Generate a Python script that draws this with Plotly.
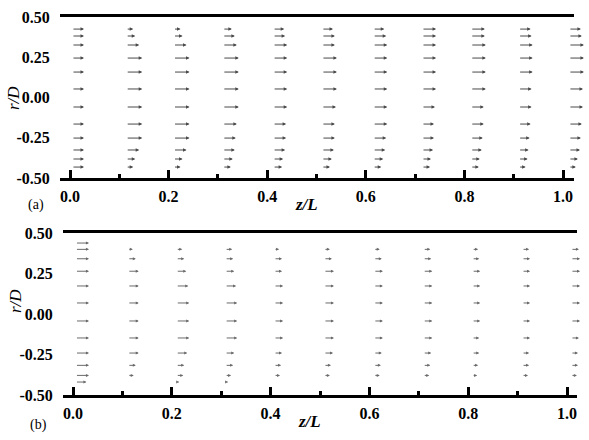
import plotly.graph_objects as go

# ---------------- data ----------------
z_a = [0.004, 0.114, 0.21, 0.31, 0.412, 0.511, 0.615, 0.714, 0.813, 0.91, 1.012]
r_a = [0.425, 0.382, 0.326, 0.245, 0.158, 0.053, -0.059, -0.165, -0.252, -0.326, -0.382, -0.432]
u_a = [
    [1.0, 1.0, 1.0, 1.0, 1.0, 1.0, 1.0, 1.0, 1.0, 1.0, 1.0, 1.0],
    [0.58, 0.75, 1.08, 1.33, 1.33, 1.33, 1.33, 1.33, 1.33, 1.08, 0.75, 0.58],
    [0.58, 0.75, 1.08, 1.33, 1.33, 1.33, 1.33, 1.33, 1.33, 1.08, 0.75, 0.58],
    [0.75, 1.0, 1.17, 1.33, 1.33, 1.33, 1.33, 1.17, 1.08, 1.0, 0.83, 0.67],
    [0.92, 1.0, 1.17, 1.17, 1.17, 1.17, 1.17, 1.08, 1.08, 1.0, 0.83, 0.75],
    [0.92, 1.08, 1.08, 1.25, 1.25, 1.25, 1.17, 1.08, 1.08, 1.0, 0.83, 0.67],
    [0.92, 1.08, 1.17, 1.17, 1.17, 1.17, 1.17, 1.17, 1.08, 1.0, 0.83, 0.67],
    [1.17, 1.17, 1.17, 1.17, 1.17, 1.17, 1.08, 1.0, 1.0, 0.92, 0.75, 0.67],
    [1.17, 1.17, 1.25, 1.25, 1.25, 1.25, 1.08, 1.08, 1.0, 0.92, 0.75, 0.67],
    [1.0, 1.08, 1.17, 1.17, 1.17, 1.08, 1.08, 1.0, 0.92, 0.83, 0.75, 0.58],
    [1.0, 1.08, 1.25, 1.25, 1.25, 1.17, 1.17, 1.08, 1.0, 0.92, 0.75, 0.58],
]

z_b = [0.005, 0.111, 0.209, 0.308, 0.407, 0.508, 0.609, 0.709, 0.808, 0.909, 1.008]
r_b = [0.438, 0.399, 0.341, 0.264, 0.173, 0.068, -0.043, -0.148, -0.241, -0.317, -0.379, -0.420]
u_b = [
    [1.0, 1.0, 1.0, 1.0, 1.0, 1.0, 1.0, 1.0, 1.0, 1.0, 1.0, 0.81],
    [0.07, 0.37, 0.59, 0.81, 0.81, 0.81, 0.81, 0.81, 0.81, 0.59, 0.44, 0.07],
    [0.07, 0.44, 0.59, 0.74, 0.89, 0.96, 0.96, 0.96, 0.81, 0.59, 0.52, 0.22],
    [0.15, 0.52, 0.59, 0.67, 0.81, 0.89, 0.89, 0.89, 0.67, 0.59, 0.44, 0.22],
    [0.15, 0.37, 0.59, 0.59, 0.67, 0.67, 0.67, 0.67, 0.59, 0.52, 0.44, 0.15],
    [0.07, 0.44, 0.59, 0.74, 0.74, 0.74, 0.74, 0.74, 0.67, 0.52, 0.44, 0.15],
    [0.07, 0.44, 0.59, 0.67, 0.67, 0.67, 0.67, 0.67, 0.59, 0.52, 0.44, 0.15],
    [0.07, 0.52, 0.59, 0.67, 0.67, 0.67, 0.67, 0.67, 0.59, 0.52, 0.44, 0.15],
    [0.07, 0.44, 0.52, 0.59, 0.59, 0.59, 0.59, 0.52, 0.52, 0.44, 0.37, 0.15],
    [0.07, 0.52, 0.59, 0.59, 0.59, 0.59, 0.59, 0.59, 0.52, 0.52, 0.44, 0.15],
    [0.07, 0.59, 0.67, 0.67, 0.67, 0.67, 0.67, 0.59, 0.52, 0.52, 0.44, 0.15],
]

x_ticks = [0.0, 0.2, 0.4, 0.6, 0.8, 1.0]
x_ticktext = ["0.0", "0.2", "0.4", "0.6", "0.8", "1.0"]
x_minor = [0.1, 0.3, 0.5, 0.7, 0.9]
y_ticks = [0.5, 0.25, 0.0, -0.25, -0.5]
y_ticktext = ["0.50", "0.25", "0.00", "-0.25", "-0.50"]

SCALE_A = 0.0244
SCALE_B = 0.0273

W, H = 589, 440
SERIF = "Liberation Serif, Times New Roman, serif"

fig = go.Figure()
fig.add_trace(go.Scatter(x=[0], y=[0], mode="markers", marker=dict(opacity=0), xaxis="x", yaxis="y", hoverinfo="skip", showlegend=False))
fig.add_trace(go.Scatter(x=[0], y=[0], mode="markers", marker=dict(opacity=0), xaxis="x2", yaxis="y2", hoverinfo="skip", showlegend=False))

annotations = []

def add_arrows(zs, rs, us, scale, xr, yr, color, size):
    for zi, col in zip(zs, us):
        for ri, u in zip(rs, col):
            annotations.append(dict(
                x=zi + u * scale, y=ri, ax=zi, ay=ri,
                xref=xr, yref=yr, axref=xr, ayref=yr,
                showarrow=True, arrowhead=2, arrowsize=size, arrowwidth=1,
                arrowcolor=color, text="", standoff=0, startstandoff=0,
            ))

add_arrows(z_a, r_a, u_a, SCALE_A, "x", "y", "#4a4a4a", 0.7)
add_arrows(z_b, r_b, u_b, SCALE_B, "x2", "y2", "#6a6a6a", 0.6)

def paper_text(text, px, py, size, **kw):
    d = dict(text=text, x=px / W, y=1 - py / H, xref="paper", yref="paper",
             showarrow=False, xanchor="center", yanchor="middle",
             font=dict(family=SERIF, size=size, color="black"))
    d.update(kw)
    annotations.append(d)

paper_text("<b><i>z/L</i></b>", 306, 204, 17)
paper_text("<b><i>z/L</i></b>", 309, 421, 17)
paper_text("(a)", 36, 205, 14)
paper_text("(b)", 38, 425, 14)
paper_text("<i>r/D</i>", 14, 98, 17, textangle=-90)
paper_text("<i>r/D</i>", 15, 301, 17, textangle=-90)

def xaxis_cfg(domain, rng):
    return dict(domain=domain, range=rng, showgrid=False, zeroline=False, automargin=False,
                showline=True, linewidth=3, linecolor="black", mirror=True,
                tickvals=x_ticks, ticktext=x_ticktext, ticks="inside", ticklen=8,
                tickwidth=3, tickcolor="black",
                minor=dict(ticks="inside", ticklen=4, tickwidth=3, tickcolor="black",
                           tickvals=x_minor),
                ticklabelstandoff=2,
                tickfont=dict(family=SERIF, size=16, color="black", weight="bold"),
                fixedrange=True)

def yaxis_cfg(domain, anchor):
    return dict(domain=domain, range=[-0.5, 0.5], anchor=anchor, showgrid=False, automargin=False,
                zeroline=False, showline=False, tickvals=y_ticks, ticktext=y_ticktext,
                ticks="outside", ticklen=6, tickcolor="rgba(0,0,0,0)",
                tickfont=dict(family=SERIF, size=16, color="black", weight="bold"),
                fixedrange=True)

fig.update_layout(
    width=W, height=H,
    margin=dict(l=0, r=0, t=0, b=0, pad=0, autoexpand=False),
    paper_bgcolor="white", plot_bgcolor="white",
    showlegend=False,
    xaxis=xaxis_cfg([60 / W, 574 / W], [-10 / 493, 1 + 11 / 493]) | dict(anchor="y"),
    yaxis=yaxis_cfg([(H - 178) / H, (H - 17) / H], "x"),
    xaxis2=xaxis_cfg([63 / W, 577 / W], [-10 / 494, 1 + 10 / 494]) | dict(anchor="y2"),
    yaxis2=yaxis_cfg([(H - 395) / H, (H - 233) / H], "x2"),
    annotations=annotations,
)

fig.write_html("out.html", config={"displayModeBar": False},
               post_script="document.body.style.margin='0';document.body.style.overflow='hidden';")
